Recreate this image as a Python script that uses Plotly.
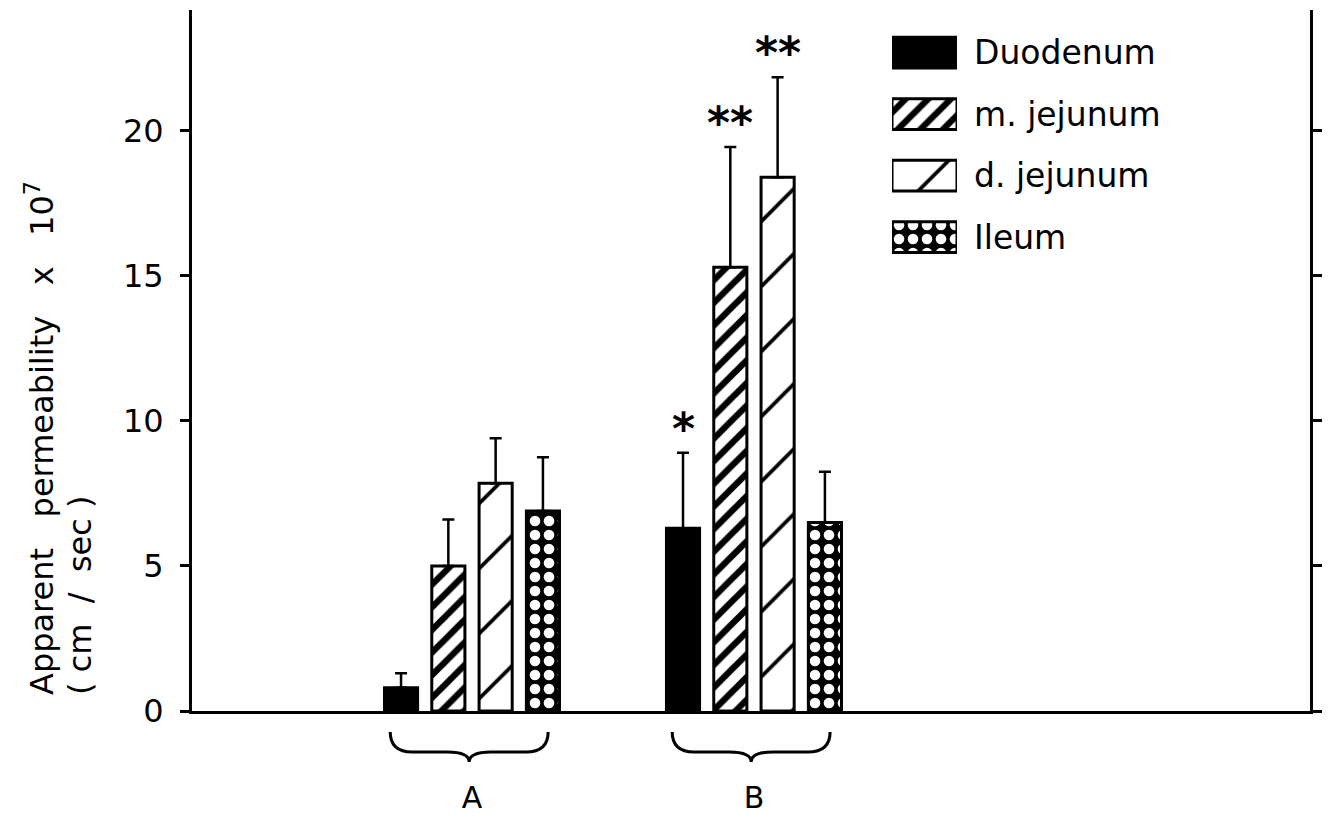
import plotly.graph_objects as go

# ---------------- data ----------------
groups = ["A", "B"]
series = ["Duodenum", "m. jejunum", "d. jejunum", "Ileum"]
values = {
    "Duodenum":   [0.8, 6.3],
    "m. jejunum": [5.0, 15.3],
    "d. jejunum": [7.85, 18.4],
    "Ileum":      [6.9, 6.5],
}
errors = {
    "Duodenum":   [0.5, 2.6],
    "m. jejunum": [1.6, 4.15],
    "d. jejunum": [1.55, 3.45],
    "Ileum":      [1.85, 1.75],
}
signif = {
    "Duodenum":   ["", "*"],
    "m. jejunum": ["", "**"],
    "d. jejunum": ["", "**"],
    "Ileum":      ["", ""],
}
y_ticks = [0, 5, 10, 15, 20]
y_title_1 = "Apparent   permeability   x   10<sup>7</sup>"
y_title_2 = "( cm  /  sec )"

# ---------------- styles ----------------
FONT = "DejaVu Sans"
styles = {
    "Duodenum": dict(color="black"),
    "m. jejunum": dict(color="white", pattern=dict(shape="/", size=16, solidity=0.4,
                                                 fgcolor="black", bgcolor="white", fgopacity=1)),
    "d. jejunum": dict(color="white", pattern=dict(shape="/", size=46, solidity=0.08,
                                                 fgcolor="black", bgcolor="white", fgopacity=1)),
    "Ileum": dict(color="black", pattern=dict(shape=".", size=14, solidity=0.45,
                                            fgcolor="white", bgcolor="black", fgopacity=1)),
}
XR = [-0.993, 2.972]
YR = [0, 24.17]
BARGAP = 0.329
BARGROUPGAP = 0.30

fig = go.Figure()

for s in series:
    fig.add_trace(go.Bar(
        name=s, x=groups, y=values[s],
        marker=dict(line=dict(color="black", width=3), **styles[s]),
        error_y=dict(type="data", array=errors[s], arrayminus=[0] * len(groups),
                     symmetric=False, color="black", thickness=2.5, width=6),
        showlegend=False,
    ))

# legend swatches drawn as horizontal bars on a small secondary subplot
for s in series:
    fig.add_trace(go.Bar(
        x=[1], y=[s], orientation="h", base=0, width=0.5, offset=-0.25,
        xaxis="x2", yaxis="y2", showlegend=False, cliponaxis=False,
        marker=dict(line=dict(color="black", width=3), **styles[s]),
    ))

# significance stars
slot = (1 - BARGAP) / len(series)
for k, s in enumerate(series):
    for i, g in enumerate(groups):
        if signif[s][i]:
            fig.add_annotation(
                x=i + (k - (len(series) - 1) / 2) * slot,
                y=values[s][i] + errors[s][i], xref="x", yref="y",
                text=signif[s][i], showarrow=False, yanchor="bottom", yshift=-3,
                font=dict(family=FONT, size=44, color="black", weight="bold"),
            )

# curly braces under the groups
def px(xv):
    return (xv - XR[0]) / (XR[1] - XR[0])

plot_h = 819 - 10 - 108
plot_w = 1336 - 192 - 26
for i, g in enumerate(groups):
    L, R, M = px(i - 0.29), px(i + 0.27), px(i - 0.01)
    top, mid, tip = -21 / plot_h, -41 / plot_h, -51 / plot_h
    d = 22 / plot_w
    path = (f"M {L},{top} Q {L},{mid} {L + d},{mid} L {M - d},{mid} Q {M},{mid} {M},{tip} "
            f"Q {M},{mid} {M + d},{mid} L {R - d},{mid} Q {R},{mid} {R},{top}")
    fig.add_shape(type="path", path=path, xref="paper", yref="paper",
                  line=dict(color="black", width=3))

# y title (two left-aligned rotated lines)
fig.add_annotation(x=(40 - 192) / plot_w, y=14 / plot_h, xref="paper", yref="paper",
                   text=y_title_1, textangle=-90, showarrow=False,
                   xanchor="center", yanchor="bottom",
                   font=dict(family=FONT, size=32, color="black"))
fig.add_annotation(x=(80 - 192) / plot_w, y=14 / plot_h, xref="paper", yref="paper",
                   text=y_title_2, textangle=-90, showarrow=False,
                   xanchor="center", yanchor="bottom",
                   font=dict(family=FONT, size=32, color="black"))

fig.update_layout(
    width=1336, height=819,
    margin=dict(l=192, r=26, t=10, b=108, pad=0, autoexpand=False),
    paper_bgcolor="white", plot_bgcolor="white",
    barmode="group", bargap=BARGAP, bargroupgap=BARGROUPGAP,
    font=dict(family=FONT, color="black"),
    xaxis=dict(type="category", range=XR, showline=True, linecolor="black", linewidth=3,
               ticks="", showgrid=False, zeroline=False, ticklabelstandoff=58,
               automargin=False, tickfont=dict(size=30, family=FONT)),
    yaxis=dict(range=YR, tickvals=y_ticks, showline=True, linecolor="black", linewidth=3,
               mirror="ticks", ticks="outside", ticklen=9, tickwidth=2.5, tickcolor="black",
               showgrid=False, zeroline=False, ticklabelstandoff=10, automargin=False,
               tickfont=dict(size=32, family=FONT)),
    xaxis2=dict(domain=[(892 - 192) / plot_w, (957 - 192) / plot_w], anchor="y2",
                range=[0, 1], visible=False, automargin=False),
    yaxis2=dict(domain=[(711 - 268) / plot_h, (711 - 22) / plot_h], anchor="x2",
                type="category", range=[3.5, -0.5], side="right", ticks="",
                showline=False, showgrid=False, zeroline=False, ticklabelstandoff=16,
                automargin=False, tickfont=dict(size=33, family=FONT)),
)

fig.write_html("out.html", config={"displayModeBar": False},
               post_script="document.body.style.margin='0';")
